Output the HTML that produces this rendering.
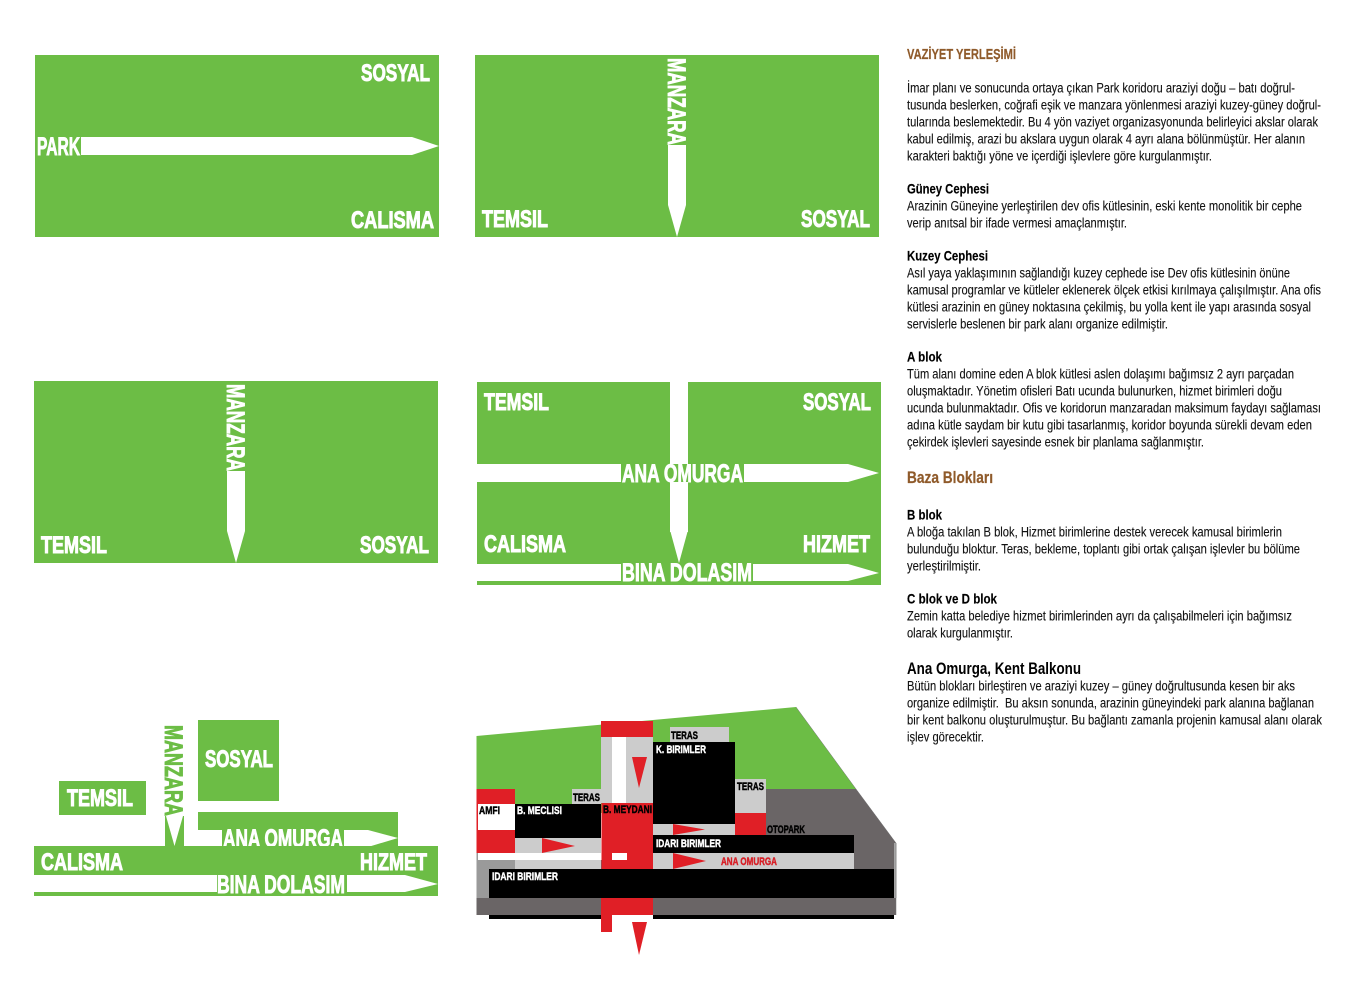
<!DOCTYPE html>
<html lang="tr"><head><meta charset="utf-8"><title>Vaziyet Yerleşimi</title>
<style>
html,body{margin:0;padding:0;background:#fff;width:1369px;height:1000px;overflow:hidden}
svg{display:block;font-family:"Liberation Sans",sans-serif}
.g{fill:#6cbd45}.w{fill:#fff}
.l{font-size:24.5px;font-weight:700;fill:#fff;stroke:#fff;stroke-width:1px;transform:translateY(-1px)}
.b{font-size:25px;font-weight:700;fill:#fff;stroke:#fff;stroke-width:.9px}
.gt{font-size:25px;font-weight:700;fill:#6cbd45;stroke:#6cbd45;stroke-width:.9px}
.s{font-size:11px;font-weight:700;fill:#fff;stroke:#fff;stroke-width:.45px}
.k{font-size:11px;font-weight:700;fill:#000;stroke:#000;stroke-width:.45px}
.t{font-size:13.5px;fill:#111;stroke:#111;stroke-width:.12px;transform:translateY(-.5px)}
.h{font-size:14px;font-weight:700;fill:#000;stroke:#000;stroke-width:.15px;transform:translateY(-.5px)}
.br{font-weight:700;fill:#8f5a2a;stroke:#8f5a2a;stroke-width:.2px}
</style></head><body>
<svg width="1369" height="1000" viewBox="0 0 1369 1000" xmlns="http://www.w3.org/2000/svg">

<!-- Panel 1 -->
<rect class="g" x="35" y="55" width="404" height="182"/>
<polygon class="w" points="80,137 412,137 439,146 412,155 80,155"/>
<rect class="g" x="35" y="137" width="46" height="18"/>
<text class="b" x="37" y="155" textLength="43" lengthAdjust="spacingAndGlyphs">PARK</text>
<text class="l" x="361" y="82" textLength="69" lengthAdjust="spacingAndGlyphs">SOSYAL</text>
<text class="l" x="351" y="229" textLength="83" lengthAdjust="spacingAndGlyphs">CALISMA</text>

<!-- Panel 2 -->
<rect class="g" x="475" y="55" width="404" height="182"/>
<polygon class="w" points="668,145 686,145 686,205 677,237 668,205"/>
<text class="b" transform="translate(668,58) rotate(90)" textLength="87" lengthAdjust="spacingAndGlyphs">MANZARA</text>
<text class="l" x="482" y="228" textLength="66" lengthAdjust="spacingAndGlyphs">TEMSIL</text>
<text class="l" x="801" y="228" textLength="69" lengthAdjust="spacingAndGlyphs">SOSYAL</text>

<!-- Panel 3 -->
<rect class="g" x="34" y="381" width="404" height="182"/>
<polygon class="w" points="227,471 245,471 245,531 236,563 227,531"/>
<text class="b" transform="translate(227,384) rotate(90)" textLength="87" lengthAdjust="spacingAndGlyphs">MANZARA</text>
<text class="l" x="41" y="554" textLength="66" lengthAdjust="spacingAndGlyphs">TEMSIL</text>
<text class="l" x="360" y="554" textLength="69" lengthAdjust="spacingAndGlyphs">SOSYAL</text>

<!-- Panel 4 -->
<rect class="g" x="477" y="382" width="404" height="203"/>
<rect class="w" x="670" y="382" width="18" height="150"/>
<polygon class="w" points="670,530 688,530 679,563"/>
<polygon class="w" points="477,464 848,464 879,473 848,482 477,482"/>
<polygon class="w" points="477,564 848,564 879,573 848,581 477,581"/>
<rect class="g" x="621" y="464" width="123" height="18"/>
<rect class="g" x="621" y="564" width="132" height="17"/>
<text class="b" x="622" y="482" textLength="121" lengthAdjust="spacingAndGlyphs">ANA OMURGA</text>
<text class="b" x="622" y="581" textLength="130" lengthAdjust="spacingAndGlyphs">BINA DOLASIM</text>
<text class="l" x="484" y="411" textLength="65" lengthAdjust="spacingAndGlyphs">TEMSIL</text>
<text class="l" x="803" y="411" textLength="68" lengthAdjust="spacingAndGlyphs">SOSYAL</text>
<text class="l" x="484" y="553" textLength="82" lengthAdjust="spacingAndGlyphs">CALISMA</text>
<text class="l" x="803" y="553" textLength="67" lengthAdjust="spacingAndGlyphs">HIZMET</text>

<!-- Panel 5 -->
<rect class="g" x="198" y="720" width="81" height="81"/>
<text class="l" x="205" y="768" textLength="68" lengthAdjust="spacingAndGlyphs">SOSYAL</text>
<rect class="g" x="59" y="781" width="87" height="34"/>
<text class="l" x="67" y="807" textLength="66" lengthAdjust="spacingAndGlyphs">TEMSIL</text>
<text class="gt" transform="translate(165,725) rotate(90)" textLength="91" lengthAdjust="spacingAndGlyphs">MANZARA</text>
<rect class="g" x="165" y="816" width="19" height="31"/>
<polygon class="w" points="166,816 183,816 174.500,846"/>
<rect class="g" x="198" y="812" width="200" height="18"/>
<polygon class="g" points="368,830 398,830 398,847 368,847"/>
<polygon class="w" points="368,830 398,838 368,847"/>
<rect class="g" x="222" y="830" width="122" height="17"/>
<text class="b" x="223" y="847" textLength="120" lengthAdjust="spacingAndGlyphs">ANA OMURGA</text>
<rect class="g" x="34" y="846" width="404" height="50"/>
<polygon class="w" points="34,875 405,875 438,884 405,892 34,892"/>
<rect class="g" x="217" y="875" width="130" height="18"/>
<text class="b" x="217" y="893" textLength="128" lengthAdjust="spacingAndGlyphs">BINA DOLASIM</text>
<text class="l" x="41" y="871" textLength="82" lengthAdjust="spacingAndGlyphs">CALISMA</text>
<text class="l" x="360" y="871" textLength="67" lengthAdjust="spacingAndGlyphs">HIZMET</text>

<!-- Site plan -->
<polygon class="g" points="476.500,736 796,707 856,789 766,789 766,813 601,813 601,804 476.500,804"/>
<polygon fill="#6a6566" points="765,789 856,789 896,843 896,915 476.500,915 476.500,860 765,860"/>
<polygon fill="#9a9a9a" points="476.500,853 478,853 478,860 515,860 515,869 489,869 489,898 476.500,898"/>
<rect x="894" y="843" width="2.500" height="55" fill="#a5a5a5"/>
<path d="M796 707L856 789L896 843V915" fill="none" stroke="#777" stroke-width=".5"/>
<rect fill="#000" x="489" y="915" width="112" height="4"/>
<rect fill="#000" x="653" y="915" width="241" height="4"/>
<!-- central spine -->
<rect fill="#e01f26" x="601" y="721" width="52" height="16"/>
<rect fill="#ccc" x="601" y="737" width="52" height="66"/>
<rect class="w" x="612" y="737" width="14" height="66"/>
<polygon fill="#e01f26" points="632,757 647,757 639,788"/>
<rect fill="#e01f26" x="601.500" y="803" width="51.500" height="66"/>
<rect class="w" x="612" y="853" width="15" height="7"/>
<rect fill="#e01f26" x="601" y="898" width="52" height="17"/>
<rect fill="#e01f26" x="601" y="915" width="11" height="17"/>
<polygon fill="#e01f26" points="632,922 647,922 639,955"/>
<!-- west -->
<rect fill="#e01f26" x="476.500" y="789" width="38.500" height="64"/>
<rect class="w" x="478" y="804" width="37" height="26"/>
<rect fill="#000" x="515" y="804" width="86" height="34"/>
<rect fill="#ccc" x="572" y="789" width="29" height="15"/>
<rect fill="#ccc" x="515" y="838" width="86" height="15"/>
<polygon fill="#e01f26" points="542,838 575,846 542,853"/>
<rect class="w" x="478" y="853" width="123" height="7"/>
<rect fill="#ccc" x="515" y="860" width="86" height="9"/>
<!-- north/east -->
<rect fill="#ccc" x="670" y="727" width="59" height="15"/>
<rect fill="#000" x="653" y="742" width="82" height="82"/>
<rect fill="#ccc" x="735" y="779" width="31" height="34"/>
<rect fill="#e01f26" x="735" y="813" width="31" height="22"/>
<rect fill="#ccc" x="653" y="824" width="82" height="11"/>
<polygon fill="#e01f26" points="673,824 705,829.500 673,835"/>
<rect fill="#000" x="653" y="835" width="201" height="18"/>
<rect fill="#ccc" x="653" y="853" width="201" height="16"/>
<polygon fill="#e01f26" points="673,853 706,861 673,869"/>
<rect fill="#000" x="489" y="869" width="405" height="29"/>
<!-- plan labels -->
<text class="k" x="479" y="814" textLength="21" lengthAdjust="spacingAndGlyphs">AMFI</text>
<text class="s" x="517" y="814" textLength="45" lengthAdjust="spacingAndGlyphs">B. MECLISI</text>
<text class="k" x="573" y="801" textLength="27" lengthAdjust="spacingAndGlyphs">TERAS</text>
<text class="k" x="603" y="813" textLength="49" lengthAdjust="spacingAndGlyphs">B. MEYDANI</text>
<text class="s" x="656" y="753" textLength="50" lengthAdjust="spacingAndGlyphs">K. BIRIMLER</text>
<text class="k" x="671" y="739" textLength="27" lengthAdjust="spacingAndGlyphs">TERAS</text>
<text class="k" x="737" y="790" textLength="27" lengthAdjust="spacingAndGlyphs">TERAS</text>
<text class="k" x="767" y="833" textLength="38" lengthAdjust="spacingAndGlyphs">OTOPARK</text>
<text class="s" x="656" y="847" textLength="65" lengthAdjust="spacingAndGlyphs">IDARI BIRIMLER</text>
<text class="k" x="721" y="865" textLength="56" lengthAdjust="spacingAndGlyphs" style="fill:#d81f26;stroke:#d81f26">ANA OMURGA</text>
<text class="s" x="492" y="880" textLength="66" lengthAdjust="spacingAndGlyphs">IDARI BIRIMLER</text>

<!-- Text column -->
<text class="br" font-size="14.500" x="907" y="59" textLength="109" lengthAdjust="spacingAndGlyphs">VAZİYET YERLEŞİMİ</text>
<text class="t" x="907" y="93" textLength="388" lengthAdjust="spacingAndGlyphs">İmar planı ve sonucunda ortaya çıkan Park koridoru araziyi doğu – batı doğrul-</text>
<text class="t" x="907" y="110" textLength="414" lengthAdjust="spacingAndGlyphs">tusunda beslerken, coğrafi eşik ve manzara yönlenmesi araziyi kuzey-güney doğrul-</text>
<text class="t" x="907" y="127" textLength="411" lengthAdjust="spacingAndGlyphs">tularında beslemektedir. Bu 4 yön vaziyet organizasyonunda belirleyici akslar olarak</text>
<text class="t" x="907" y="144" textLength="398" lengthAdjust="spacingAndGlyphs">kabul edilmiş, arazi bu akslara uygun olarak 4 ayrı alana bölünmüştür. Her alanın</text>
<text class="t" x="907" y="161" textLength="305" lengthAdjust="spacingAndGlyphs">karakteri baktığı yöne ve içerdiği işlevlere göre kurgulanmıştır.</text>

<text class="h" x="907" y="194" textLength="82" lengthAdjust="spacingAndGlyphs">Güney Cephesi</text>
<text class="t" x="907" y="211" textLength="395" lengthAdjust="spacingAndGlyphs">Arazinin Güneyine yerleştirilen dev ofis kütlesinin, eski kente monolitik bir cephe</text>
<text class="t" x="907" y="228" textLength="220" lengthAdjust="spacingAndGlyphs">verip anıtsal bir ifade vermesi amaçlanmıştır.</text>

<text class="h" x="907" y="261" textLength="81" lengthAdjust="spacingAndGlyphs">Kuzey Cephesi</text>
<text class="t" x="907" y="278" textLength="383" lengthAdjust="spacingAndGlyphs">Asıl yaya yaklaşımının sağlandığı kuzey cephede ise Dev ofis kütlesinin önüne</text>
<text class="t" x="907" y="295" textLength="414" lengthAdjust="spacingAndGlyphs">kamusal programlar ve kütleler eklenerek ölçek etkisi kırılmaya çalışılmıştır. Ana ofis</text>
<text class="t" x="907" y="312" textLength="404" lengthAdjust="spacingAndGlyphs">kütlesi arazinin en güney noktasına çekilmiş, bu yolla kent ile yapı arasında sosyal</text>
<text class="t" x="907" y="329" textLength="261" lengthAdjust="spacingAndGlyphs">servislerle beslenen bir park alanı organize edilmiştir.</text>

<text class="h" x="907" y="362" textLength="35" lengthAdjust="spacingAndGlyphs">A blok</text>
<text class="t" x="907" y="379" textLength="387" lengthAdjust="spacingAndGlyphs">Tüm alanı domine eden A blok kütlesi aslen dolaşımı bağımsız 2 ayrı parçadan</text>
<text class="t" x="907" y="396" textLength="375" lengthAdjust="spacingAndGlyphs">oluşmaktadır. Yönetim ofisleri Batı ucunda bulunurken, hizmet birimleri doğu</text>
<text class="t" x="907" y="413" textLength="414" lengthAdjust="spacingAndGlyphs">ucunda bulunmaktadır. Ofis ve koridorun manzaradan maksimum faydayı sağlaması</text>
<text class="t" x="907" y="430" textLength="405" lengthAdjust="spacingAndGlyphs">adına kütle saydam bir kutu gibi tasarlanmış, koridor boyunda sürekli devam eden</text>
<text class="t" x="907" y="447" textLength="297" lengthAdjust="spacingAndGlyphs">çekirdek işlevleri sayesinde esnek bir planlama sağlanmıştır.</text>

<text class="br" font-size="16.500" x="907" y="483" textLength="86" lengthAdjust="spacingAndGlyphs">Baza Blokları</text>

<text class="h" x="907" y="520" textLength="35" lengthAdjust="spacingAndGlyphs">B blok</text>
<text class="t" x="907" y="537" textLength="375" lengthAdjust="spacingAndGlyphs">A bloğa takılan B blok, Hizmet birimlerine destek verecek kamusal birimlerin</text>
<text class="t" x="907" y="554" textLength="393" lengthAdjust="spacingAndGlyphs">bulunduğu bloktur. Teras, bekleme, toplantı gibi ortak çalışan işlevler bu bölüme</text>
<text class="t" x="907" y="571" textLength="74" lengthAdjust="spacingAndGlyphs">yerleştirilmiştir.</text>

<text class="h" x="907" y="604" textLength="90" lengthAdjust="spacingAndGlyphs">C blok ve D blok</text>
<text class="t" x="907" y="621" textLength="385" lengthAdjust="spacingAndGlyphs">Zemin katta belediye hizmet birimlerinden ayrı da çalışabilmeleri için bağımsız</text>
<text class="t" x="907" y="638" textLength="106" lengthAdjust="spacingAndGlyphs">olarak kurgulanmıştır.</text>

<text font-size="17" font-weight="700" fill="#000" x="907" y="674" textLength="174" lengthAdjust="spacingAndGlyphs">Ana Omurga, Kent Balkonu</text>
<text class="t" x="907" y="691" textLength="388" lengthAdjust="spacingAndGlyphs">Bütün blokları birleştiren ve araziyi kuzey – güney doğrultusunda kesen bir aks</text>
<text class="t" x="907" y="708" textLength="407" lengthAdjust="spacingAndGlyphs" xml:space="preserve">organize edilmiştir.  Bu aksın sonunda, arazinin güneyindeki park alanına bağlanan</text>
<text class="t" x="907" y="725" textLength="415" lengthAdjust="spacingAndGlyphs">bir kent balkonu oluşturulmuştur. Bu bağlantı zamanla projenin kamusal alanı olarak</text>
<text class="t" x="907" y="742" textLength="77" lengthAdjust="spacingAndGlyphs">işlev görecektir.</text>
</svg>
</body></html>
